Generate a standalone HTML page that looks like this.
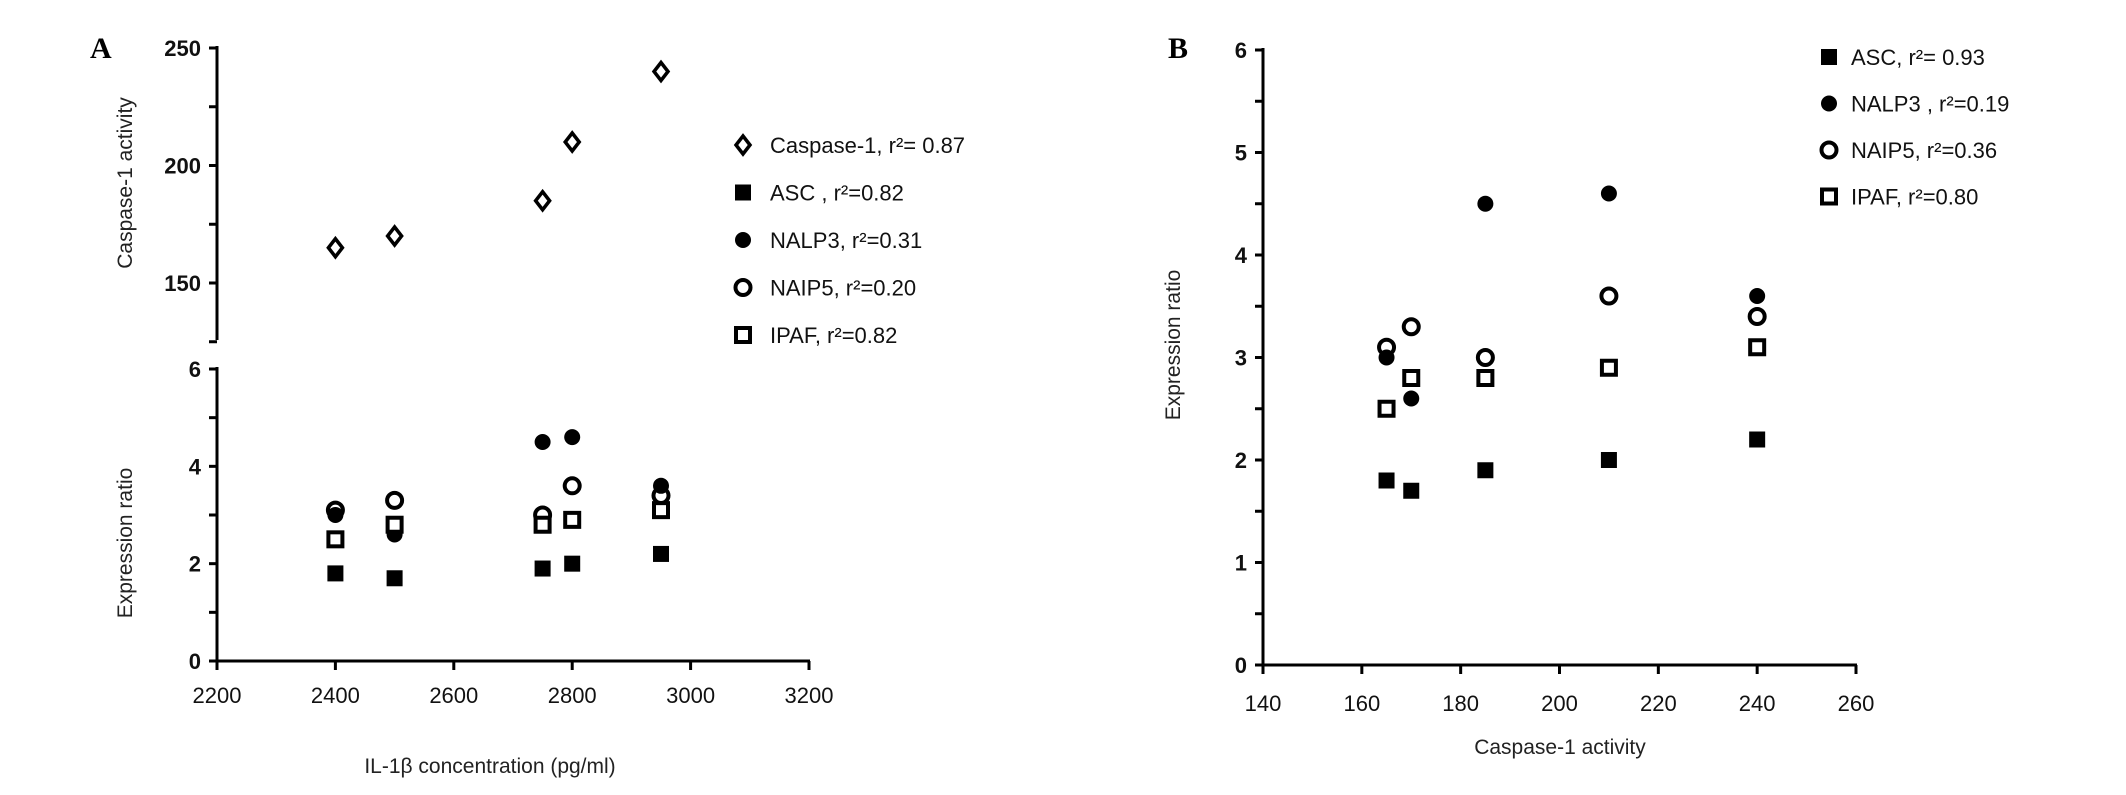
<!DOCTYPE html>
<html><head><meta charset="utf-8"><style>
html,body{margin:0;padding:0;background:#fff;}
svg{display:block;font-family:"Liberation Sans",sans-serif;}
</style></head><body>
<svg id="c" width="2126" height="795" viewBox="0 0 2126 795" xmlns="http://www.w3.org/2000/svg">
<text x="90" y="58" font-family="Liberation Serif,serif" font-weight="bold" font-size="30">A</text>
<text x="1168" y="58" font-family="Liberation Serif,serif" font-weight="bold" font-size="30">B</text>
<text transform="translate(132,183) rotate(-90)" text-anchor="middle" font-size="21" fill="#222">Caspase-1 activity</text>
<text transform="translate(132,543) rotate(-90)" text-anchor="middle" font-size="21" fill="#222">Expression ratio</text>
<text x="490" y="773" text-anchor="middle" font-size="21" fill="#222">IL-1β concentration (pg/ml)</text>
<text transform="translate(1180,345) rotate(-90)" text-anchor="middle" font-size="21" fill="#222">Expression ratio</text>
<text x="1560" y="754" text-anchor="middle" font-size="21" fill="#222">Caspase-1 activity</text>
<g id="g"></g>
</svg>
<script>
const ilConc = [2400, 2500, 2750, 2800, 2950];
const caspase = [165, 170, 185, 210, 240];
const asc = [1.8, 1.7, 1.9, 2.0, 2.2];
const nalp3 = [3.0, 2.6, 4.5, 4.6, 3.6];
const naip5 = [3.1, 3.3, 3.0, 3.6, 3.4];
const ipaf = [2.5, 2.8, 2.8, 2.9, 3.1];
const xTicksA = [2200, 2400, 2600, 2800, 3000, 3200];
const yTicksCasp = [150, 200, 250];
const yTicksExprA = [0, 2, 4, 6];
const xTicksB = [140, 160, 180, 200, 220, 240, 260];
const yTicksB = [0, 1, 2, 3, 4, 5, 6];
const legendA = ["Caspase-1,  r²= 0.87", "ASC , r²=0.82", "NALP3, r²=0.31", "NAIP5, r²=0.20", "IPAF, r²=0.82"];
const legendB = ["ASC,  r²= 0.93", "NALP3 , r²=0.19", "NAIP5, r²=0.36", "IPAF, r²=0.80"];

const NS = "http://www.w3.org/2000/svg";
const G = document.getElementById('g');
function mk(tag, attrs, parent) {
  const e = document.createElementNS(NS, tag);
  for (const k in attrs) e.setAttribute(k, attrs[k]);
  (parent || G).appendChild(e);
  return e;
}
function lin(d0, d1, r0, r1) { return v => r0 + (v - d0) * (r1 - r0) / (d1 - d0); }

const xA = lin(2200, 3200, 217, 809);
const yCasp = lin(150, 250, 283, 48);
const yExA = lin(0, 6, 661, 369);
const xB = lin(140, 260, 1263, 1856);
const yB = lin(0, 6, 665, 50);

function marker(type, cx, cy, name) {
  let e;
  if (type === 'sq') e = mk('rect', {x: cx - 8, y: cy - 8, width: 16, height: 16, fill: '#000'});
  else if (type === 'osq') e = mk('rect', {x: cx - 7, y: cy - 7, width: 14, height: 14, fill: '#fff', stroke: '#000', 'stroke-width': 4});
  else if (type === 'dot') e = mk('circle', {cx: cx, cy: cy, r: 8, fill: '#000'});
  else if (type === 'ocir') e = mk('circle', {cx: cx, cy: cy, r: 7.5, fill: '#fff', stroke: '#000', 'stroke-width': 4});
  else if (type === 'dia') e = mk('polygon', {points: `${cx},${cy-9} ${cx+7},${cy} ${cx},${cy+9} ${cx-7},${cy}`, fill: '#fff', stroke: '#000', 'stroke-width': 3.5});
  
  
  return e;
}
function line(x1, y1, x2, y2, name) {
  const e = mk('line', {x1, y1, x2, y2, stroke: '#000', 'stroke-width': 3});
  
  
}
function label(x, y, s, anchor, name, bold) {
  const t = mk('text', {x, y, 'text-anchor': anchor, 'font-size': 22, fill: '#111', 'font-weight': bold ? 'bold' : 'normal'});
  t.textContent = s;
  
  
}

line(217, 46, 217, 340, 'y-axis-caspase');
for (let v = 125; v <= 250; v += 25) line(209, yCasp(v), 217, yCasp(v), 'y-tick-caspase');
yTicksCasp.forEach(v => label(201, yCasp(v) + 8, String(v), 'end', 'y-tick-label-caspase', true));
line(217, 367, 217, 663, 'y-axis-expression-a');
for (let v = 0; v <= 6; v += 1) line(209, yExA(v), 217, yExA(v), 'y-tick-expression-a');
yTicksExprA.forEach(v => label(201, yExA(v) + 8, String(v), 'end', 'y-tick-label-expression-a', true));
line(215, 661, 810, 661, 'x-axis-a');
xTicksA.forEach(v => { line(xA(v), 661, xA(v), 670, 'x-tick-a'); label(xA(v), 703, String(v), 'middle', 'x-tick-label-a', false); });

ilConc.forEach((x, i) => {
  marker('dia', xA(x), yCasp(caspase[i]), 'point-caspase-a');
  marker('ocir', xA(x), yExA(naip5[i]), 'point-naip5-a');
  marker('dot', xA(x), yExA(nalp3[i]), 'point-nalp3-a');
  marker('osq', xA(x), yExA(ipaf[i]), 'point-ipaf-a');
  marker('sq', xA(x), yExA(asc[i]), 'point-asc-a');
});
const typesA = ['dia', 'sq', 'dot', 'ocir', 'osq'];
legendA.forEach((s, i) => {
  const y = 145 + i * 47.5;
  marker(typesA[i], 743, y, 'legend-marker-a');
  label(770, y + 8, s, 'start', 'legend-entry-a', false);
});

line(1263, 48, 1263, 667, 'y-axis-b');
for (let v = 0; v <= 6; v += 0.5) line(1255, yB(v), 1263, yB(v), 'y-tick-b');
yTicksB.forEach(v => label(1247, yB(v) + 8, String(v), 'end', 'y-tick-label-b', true));
line(1261, 665, 1857, 665, 'x-axis-b');
xTicksB.forEach(v => { line(xB(v), 665, xB(v), 674, 'x-tick-b'); label(xB(v), 711, String(v), 'middle', 'x-tick-label-b', false); });

caspase.forEach((x, i) => {
  marker('ocir', xB(x), yB(naip5[i]), 'point-naip5-b');
  marker('dot', xB(x), yB(nalp3[i]), 'point-nalp3-b');
  marker('osq', xB(x), yB(ipaf[i]), 'point-ipaf-b');
  marker('sq', xB(x), yB(asc[i]), 'point-asc-b');
});
const typesB = ['sq', 'dot', 'ocir', 'osq'];
legendB.forEach((s, i) => {
  const y = 57 + i * 46.5;
  marker(typesB[i], 1829, y, 'legend-marker-b');
  label(1851, y + 8, s, 'start', 'legend-entry-b', false);
});
</script>
</body></html>
